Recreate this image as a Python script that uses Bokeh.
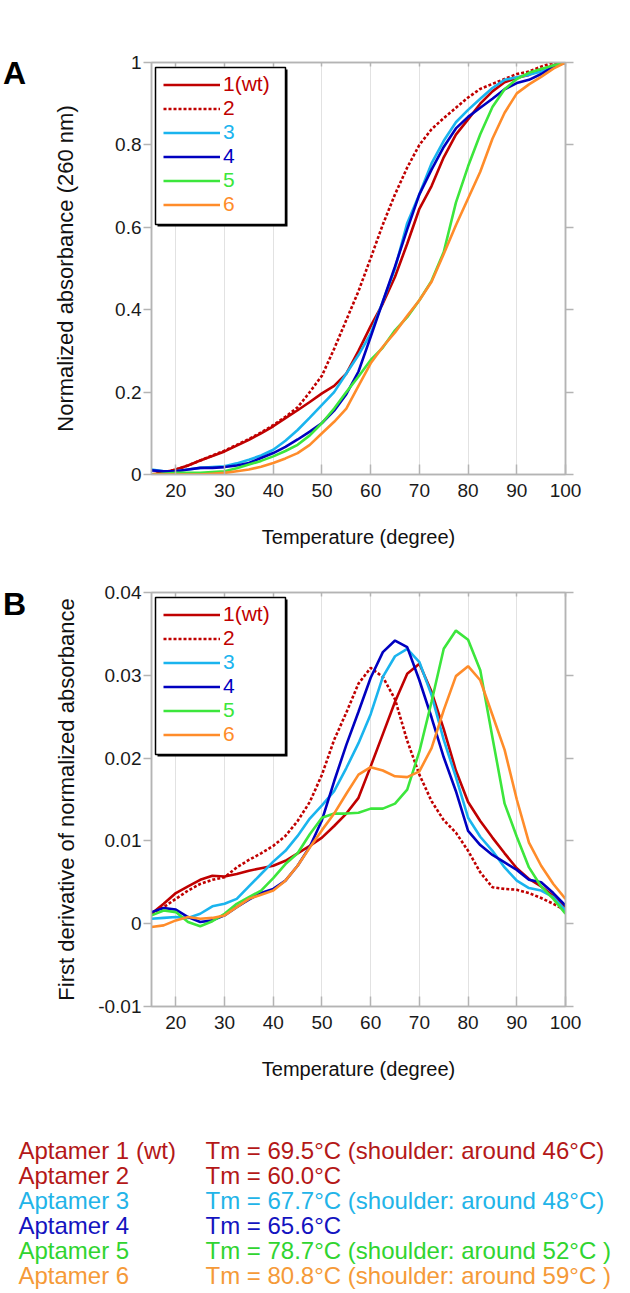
from bokeh.plotting import figure
from bokeh.models import (Range1d, FixedTicker, LinearAxis, Legend, LegendItem,
                          Label, BoxAnnotation)
from bokeh.layouts import column, row
from bokeh.embed import file_html
from bokeh.resources import INLINE

FONT = "Liberation Sans"

# ---------------- data ----------------
temperature = [15, 17.5, 20, 22.5, 25, 27.5, 30, 32.5, 35, 37.5, 40, 42.5, 45, 47.5,
               50, 52.5, 55, 57.5, 60, 62.5, 65, 67.5, 70, 72.5, 75, 77.5, 80, 82.5,
               85, 87.5, 90, 92.5, 95, 97.5, 100]

series_labels = ["1(wt)", "2", "3", "4", "5", "6"]
line_colors = ["#c00000", "#c00000", "#1ab4ee", "#0000c0", "#3ce63c", "#ff8c2a"]
line_dashes = ["solid", "3 2", "solid", "solid", "solid", "solid"]

# Panel A: normalized absorbance (260 nm)
abs_1 = [0.0, 0.005, 0.012, 0.022, 0.034, 0.045, 0.056, 0.07, 0.084, 0.1, 0.117, 0.137,
         0.156, 0.176, 0.197, 0.215, 0.245, 0.3, 0.36, 0.415, 0.48, 0.56, 0.645, 0.7,
         0.77, 0.825, 0.862, 0.9, 0.93, 0.952, 0.963, 0.97, 0.982, 0.993, 1.0]
abs_2 = [0.0, 0.005, 0.012, 0.022, 0.034, 0.046, 0.058, 0.072, 0.086, 0.102, 0.12, 0.14,
         0.163, 0.2, 0.24, 0.305, 0.375, 0.445, 0.525, 0.607, 0.68, 0.745, 0.8, 0.838,
         0.865, 0.89, 0.915, 0.936, 0.948, 0.96, 0.972, 0.978, 0.99, 1.0, 1.0]
abs_3 = [0.012, 0.008, 0.008, 0.012, 0.016, 0.018, 0.02, 0.027, 0.036, 0.046, 0.06, 0.082,
         0.108, 0.138, 0.169, 0.2, 0.245, 0.29, 0.342, 0.42, 0.5, 0.61, 0.68, 0.755,
         0.81, 0.855, 0.885, 0.912, 0.938, 0.958, 0.964, 0.97, 0.978, 0.99, 1.0]
abs_4 = [0.01, 0.008, 0.008, 0.012, 0.016, 0.016, 0.018, 0.022, 0.028, 0.04, 0.052, 0.067,
         0.085, 0.104, 0.125, 0.155, 0.195, 0.25, 0.334, 0.42, 0.505, 0.595, 0.68, 0.74,
         0.795, 0.84, 0.868, 0.89, 0.912, 0.935, 0.95, 0.958, 0.972, 0.99, 1.0]
abs_5 = [0.0, 0.002, 0.004, 0.004, 0.004, 0.006, 0.008, 0.015, 0.024, 0.033, 0.044, 0.057,
         0.072, 0.095, 0.125, 0.16, 0.2, 0.238, 0.278, 0.308, 0.35, 0.382, 0.423, 0.47,
         0.54, 0.66, 0.748, 0.826, 0.892, 0.935, 0.96, 0.975, 0.984, 0.993, 1.0]
abs_6 = [0.0, 0.0, 0.0, 0.0, 0.0, 0.002, 0.004, 0.008, 0.012, 0.019, 0.028, 0.039,
         0.052, 0.072, 0.1, 0.128, 0.16, 0.215, 0.27, 0.31, 0.345, 0.385, 0.423, 0.468,
         0.535, 0.605, 0.67, 0.735, 0.815, 0.878, 0.925, 0.947, 0.965, 0.985, 1.0]

# Panel B: first derivative of normalized absorbance
der_1 = [0.0012, 0.0024, 0.0037, 0.0045, 0.0053, 0.0058, 0.0057, 0.006, 0.0064, 0.0067,
         0.007, 0.0076, 0.0085, 0.0094, 0.0104, 0.0118, 0.0133, 0.0152, 0.019, 0.0229,
         0.0268, 0.0302, 0.0314, 0.028, 0.0235, 0.0185, 0.0147, 0.0124, 0.0104, 0.0085,
         0.0067, 0.0054, 0.0045, 0.0033, 0.002]
der_2 = [0.0012, 0.002, 0.003, 0.004, 0.0048, 0.0053, 0.0056, 0.0068, 0.0077, 0.0085,
         0.0094, 0.0106, 0.0124, 0.0147, 0.018, 0.0222, 0.0255, 0.029, 0.0309, 0.0298,
         0.0271, 0.0221, 0.018, 0.0148, 0.0125, 0.011, 0.0088, 0.0062, 0.0044, 0.0042,
         0.0041, 0.0037, 0.0031, 0.0024, 0.0016]
der_3 = [0.0006, 0.0007, 0.0008, 0.0007, 0.0012, 0.0021, 0.0024, 0.003, 0.0045, 0.006,
         0.0075, 0.0088, 0.0106, 0.0127, 0.0143, 0.016, 0.0188, 0.0218, 0.0253, 0.0298,
         0.0323, 0.0332, 0.0316, 0.0276, 0.0222, 0.0177, 0.0128, 0.0105, 0.0088, 0.0068,
         0.0052, 0.0043, 0.004, 0.0032, 0.0016]
der_4 = [0.0014, 0.0019, 0.0017, 0.0008, 0.0002, 0.0004, 0.001, 0.002, 0.0029, 0.0037,
         0.0042, 0.0052, 0.007, 0.0093, 0.0125, 0.0172, 0.0216, 0.0256, 0.0297, 0.0328,
         0.0342, 0.0334, 0.0294, 0.0249, 0.0201, 0.016, 0.0112, 0.0095, 0.0083, 0.0074,
         0.0065, 0.0053, 0.005, 0.0037, 0.0022]
der_5 = [0.001, 0.0016, 0.0014, 0.0002, -0.0003, 0.0003, 0.0012, 0.0024, 0.0032, 0.004,
         0.0055, 0.0072, 0.0085, 0.0108, 0.0128, 0.0133, 0.0133, 0.0134, 0.0139, 0.0139,
         0.0145, 0.0162, 0.0208, 0.0268, 0.0332, 0.0354, 0.0343, 0.0306, 0.0225, 0.0145,
         0.0105, 0.0068, 0.0045, 0.003, 0.0012]
der_6 = [-0.0004, -0.0002, 0.0004, 0.0008, 0.0006, 0.0007, 0.001, 0.002, 0.003, 0.0035,
         0.004, 0.0052, 0.007, 0.0092, 0.0113, 0.0133, 0.0157, 0.018, 0.0189, 0.0185,
         0.0178, 0.0177, 0.0184, 0.0212, 0.0258, 0.0299, 0.0311, 0.0294, 0.0252, 0.021,
         0.015, 0.0098, 0.007, 0.0048, 0.003]

x_ticks = [20, 30, 40, 50, 60, 70, 80, 90, 100]
a_ticks = [0, 0.2, 0.4, 0.6, 0.8, 1]
a_tick_labels = ["0", "0.2", "0.4", "0.6", "0.8", "1"]
b_ticks = [-0.01, 0, 0.01, 0.02, 0.03, 0.04]
b_tick_labels = ["-0.01", "0", "0.01", "0.02", "0.03", "0.04"]

summary_names = ["Aptamer 1 (wt)", "Aptamer 2", "Aptamer 3", "Aptamer 4", "Aptamer 5", "Aptamer 6"]
summary_tm = ["Tm = 69.5\u00b0C (shoulder: around 46\u00b0C)",
              "Tm = 60.0\u00b0C",
              "Tm = 67.7\u00b0C (shoulder: around 48\u00b0C)",
              "Tm = 65.6\u00b0C",
              "Tm = 78.7\u00b0C (shoulder: around 52\u00b0C )",
              "Tm = 80.8\u00b0C (shoulder: around 59\u00b0C )"]
summary_colors = ["#b41818", "#b41818", "#22b4e8", "#1414c0", "#30d430", "#f59a38"]

# ---------------- layout constants (page pixels, page has no margin) ----------------
LETTER_W = 30
FRAME_LEFT = 151
FRAME_W = 414
PANEL_W = 630 - LETTER_W
BORDER_L = FRAME_LEFT - LETTER_W
BORDER_R = PANEL_W - BORDER_L - FRAME_W
AXIS_GRAY = "#b4b4b4"


def style_panel(p, yticks, ylabels, ytitle, ystandoff):
    p.xgrid.ticker = FixedTicker(ticks=x_ticks)
    p.xgrid.grid_line_color = "#c4c4c4"
    p.xgrid.grid_line_dash = "1 1"
    p.ygrid.visible = False
    p.outline_line_color = AXIS_GRAY
    p.outline_line_width = 1.5

    xa = p.xaxis[0]
    xa.ticker = FixedTicker(ticks=x_ticks)
    xa.axis_label = "Temperature (degree)"
    ya = p.yaxis[0]
    ya.ticker = FixedTicker(ticks=yticks)
    ya.major_label_overrides = {t: l for t, l in zip(yticks, ylabels)}
    ya.axis_label = ytitle
    for ax in (xa, ya):
        ax.axis_line_color = AXIS_GRAY
        ax.axis_line_width = 1.5
        ax.major_tick_line_color = AXIS_GRAY
        ax.major_tick_line_width = 1.5
        ax.minor_tick_line_color = None
        ax.major_label_text_font = FONT
        ax.major_label_text_font_size = "19px"
        ax.major_label_text_color = "#1a1a1a"
        ax.axis_label_text_font = FONT
        ax.axis_label_text_font_style = "normal"
        ax.axis_label_text_color = "#111111"
    xa.major_tick_in = 10
    xa.major_tick_out = 0
    xa.major_label_standoff = 9
    xa.axis_label_text_font_size = "20px"
    xa.axis_label_standoff = 26
    ya.major_tick_in = 0
    ya.major_tick_out = 8
    ya.major_label_standoff = 2
    ya.axis_label_text_font_size = "22px"
    ya.axis_label_standoff = ystandoff

    right = LinearAxis(ticker=FixedTicker(ticks=yticks),
                       major_label_overrides={t: "" for t in yticks},
                       axis_line_color=AXIS_GRAY, axis_line_width=1.5,
                       major_tick_line_color=AXIS_GRAY, major_tick_line_width=1.5,
                       major_tick_in=0, major_tick_out=8, minor_tick_line_color=None)
    p.add_layout(right, "right")
    top = LinearAxis(ticker=FixedTicker(ticks=x_ticks),
                     major_label_overrides={t: "" for t in x_ticks},
                     axis_line_color=AXIS_GRAY, axis_line_width=1.5,
                     major_tick_line_color=AXIS_GRAY, major_tick_line_width=1.5,
                     major_tick_in=4, major_tick_out=0, minor_tick_line_color=None)
    p.add_layout(top, "above")


def add_legend(p, renderers, frame_h, yr):
    y0, y1 = yr

    def dx(px):
        return 15 + px * 85.0 / FRAME_W

    def dy(py):
        return y1 - py * (y1 - y0) / frame_h
    shadow = BoxAnnotation(left=dx(6), right=dx(136), top=dy(7), bottom=dy(164),
                           fill_color="black", fill_alpha=1, line_color=None)
    box = BoxAnnotation(left=dx(4), right=dx(134), top=dy(5), bottom=dy(162),
                        fill_color="white", fill_alpha=1, line_color="black",
                        line_width=1.5, line_alpha=1)
    p.add_layout(shadow)
    p.add_layout(box)
    for i, (r, lab, c) in enumerate(zip(renderers, series_labels, line_colors)):
        lg = Legend(items=[LegendItem(label=lab, renderers=[r])],
                    location=(12, frame_h - 34 - 24 * i),
                    orientation="vertical", padding=0, spacing=0, margin=0,
                    glyph_width=57, glyph_height=21, label_height=21, label_standoff=3,
                    label_text_font=FONT, label_text_font_size="21px",
                    label_text_color=c, background_fill_alpha=0,
                    border_line_color=None)
        p.add_layout(lg)


def letter_fig(letter, height, yc):
    f = figure(width=LETTER_W, height=height, output_backend="svg", toolbar_location=None,
               x_range=Range1d(0, LETTER_W), y_range=Range1d(height, 0),
               x_axis_location=None, y_axis_location=None,
               min_border=0, outline_line_color=None)
    f.frame_align = False
    f.grid.visible = False
    f.add_layout(Label(x=14, y=yc, text=letter, text_font=FONT, text_font_style="bold",
                       text_font_size="32px", text_align="center",
                       text_baseline="middle", text_color="black"))
    return f


# ---------------- Panel A ----------------
A_H = 560
A_FRAME_H = 412
pA = figure(width=PANEL_W, height=A_H, output_backend="svg", toolbar_location=None,
            x_range=Range1d(15, 100), y_range=Range1d(0, 1),
            min_border_left=BORDER_L, min_border_right=BORDER_R,
            min_border_top=62, min_border_bottom=A_H - 62 - A_FRAME_H)
style_panel(pA, a_ticks, a_tick_labels, "Normalized absorbance (260 nm)", 34)
rA = []
for ys, c, d in zip([abs_1, abs_2, abs_3, abs_4, abs_5, abs_6], line_colors, line_dashes):
    rA.append(pA.line(temperature, ys, line_color=c, line_width=2.6, line_dash=d))
add_legend(pA, rA, A_FRAME_H, (0, 1))
LA = letter_fig("A", A_H, 72)

# ---------------- Panel B ----------------
B_H = 530
B_FRAME_H = 414
pB = figure(width=PANEL_W, height=B_H, output_backend="svg", toolbar_location=None,
            x_range=Range1d(15, 100), y_range=Range1d(-0.01, 0.04),
            min_border_left=BORDER_L, min_border_right=BORDER_R,
            min_border_top=32, min_border_bottom=B_H - 32 - B_FRAME_H)
style_panel(pB, b_ticks, b_tick_labels, "First derivative of normalized absorbance", 16)
rB = []
for ys, c, d in zip([der_1, der_2, der_3, der_4, der_5, der_6], line_colors, line_dashes):
    rB.append(pB.line(temperature, ys, line_color=c, line_width=2.6, line_dash=d))
add_legend(pB, rB, B_FRAME_H, (-0.01, 0.04))
LB = letter_fig("B", B_H, 603 - A_H)

# ---------------- Summary text ----------------
C_H = 200
C_TOP = A_H + B_H
pC = figure(width=630, height=C_H, output_backend="svg", toolbar_location=None,
            x_range=Range1d(0, 630), y_range=Range1d(C_H, 0),
            x_axis_location=None, y_axis_location=None,
            min_border=0, outline_line_color=None)
pC.frame_align = False
pC.grid.visible = False
for i, (nm, tm, c) in enumerate(zip(summary_names, summary_tm, summary_colors)):
    yc = 1150 + 25 * i - C_TOP
    pC.add_layout(Label(x=18, y=yc, text=nm, text_font=FONT, text_font_size="24px",
                        text_color=c, text_baseline="middle", text_align="left"))
    pC.add_layout(Label(x=205, y=yc, text=tm, text_font=FONT, text_font_size="24px",
                        text_color=c, text_baseline="middle", text_align="left"))

layout = column(row(LA, pA, spacing=0), row(LB, pB, spacing=0), pC, spacing=0)
open("out.html", "w").write(file_html(layout, INLINE))
